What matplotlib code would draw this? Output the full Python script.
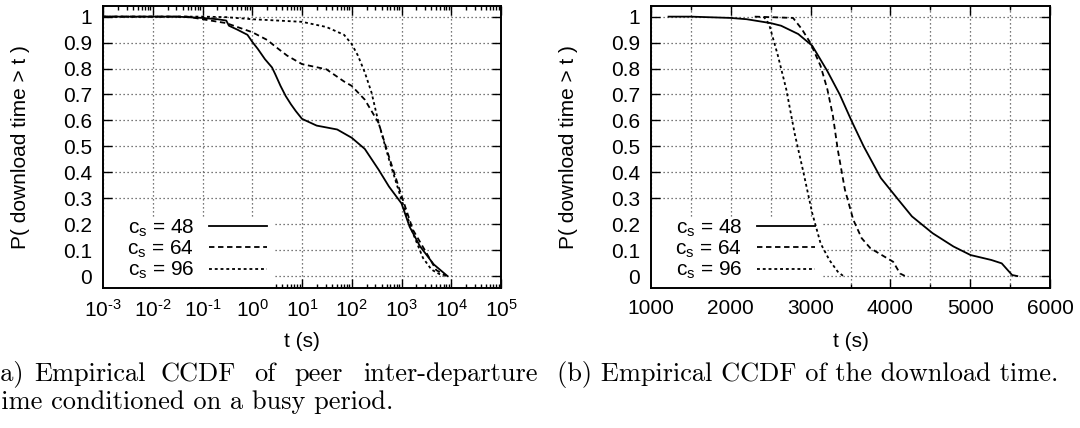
import numpy as np
import matplotlib
matplotlib.use("Agg")
import matplotlib.pyplot as plt
from matplotlib.ticker import (FormatStrFormatter, MultipleLocator, LogLocator,
                               NullFormatter, FuncFormatter)
from matplotlib.patches import Rectangle

plt.rcParams['font.family'] = ['Liberation Sans', 'DejaVu Sans']
plt.rcParams['mathtext.fontset'] = 'custom'
plt.rcParams['mathtext.rm'] = 'Liberation Sans'
plt.rcParams['mathtext.it'] = 'Liberation Sans:italic'
plt.rcParams['mathtext.default'] = 'rm'
plt.rcParams['axes.unicode_minus'] = False

# (a) inter-departure time CCDF, log x axis
a_t48 = [1e-3, 0.03, 0.1, 0.2, 0.3, 0.34, 0.5, 0.8, 1.0, 1.3, 1.8, 2.5, 2.9, 3.7, 4.7,
         6.0, 7.5, 10, 19.7, 51, 100, 183, 347, 560, 1000, 1456, 2350, 4450, 8400]
a_p48 = [1.0, 1.0, 0.995, 0.99, 0.985, 0.965, 0.95, 0.93, 0.903, 0.875, 0.836, 0.804,
         0.778, 0.733, 0.694, 0.662, 0.636, 0.606, 0.58, 0.565, 0.533, 0.49, 0.41, 0.345,
         0.28, 0.19, 0.115, 0.045, 0.0]
a_t64 = [1e-3, 0.05, 0.1, 0.3, 1.0, 2.0, 2.9, 5.0, 10, 31, 70, 100, 183, 347, 560, 1000,
         1700, 3200, 5000, 8000]
a_p64 = [1.0, 1.0, 0.99, 0.975, 0.94, 0.91, 0.885, 0.85, 0.817, 0.797, 0.75, 0.733, 0.68,
         0.59, 0.46, 0.31, 0.178, 0.088, 0.023, 0.0]
a_t96 = [1e-3, 0.1, 0.3, 1.0, 10, 31, 70, 100, 133, 183, 250, 347, 560, 1000, 1700,
         2700, 4000, 5500, 7000]
a_p96 = [1.0, 1.0, 0.998, 0.99, 0.98, 0.96, 0.93, 0.894, 0.85, 0.785, 0.707, 0.59, 0.45,
         0.294, 0.165, 0.07, 0.025, 0.01, 0.0]

# (b) download time CCDF, linear x axis
b_t48 = [1220, 1500, 2000, 2200, 2500, 2630, 2845, 3020, 3210, 3365, 3515, 3665, 3880,
         4100, 4270, 4530, 4790, 5005, 5265, 5395, 5525, 5590]
b_p48 = [1.0, 1.0, 0.995, 0.99, 0.975, 0.965, 0.933, 0.888, 0.79, 0.70, 0.597, 0.50, 0.378,
         0.294, 0.23, 0.165, 0.114, 0.081, 0.062, 0.049, 0.004, 0.0]
b_t64 = [2300, 2780, 2890, 2995, 3125, 3210, 3280, 3340, 3430, 3535, 3640, 3750, 3925,
         4035, 4120, 4185]
b_p64 = [1.0, 0.995, 0.952, 0.90, 0.81, 0.72, 0.617, 0.488, 0.333, 0.217, 0.146, 0.107,
         0.075, 0.055, 0.01, 0.0]
b_t96 = [2410, 2450, 2480, 2590, 2695, 2800, 2910, 3020, 3125, 3235, 3340, 3410]
b_p96 = [1.0, 0.985, 0.97, 0.85, 0.72, 0.55, 0.40, 0.243, 0.126, 0.062, 0.017, 0.0]

labels = ['c$_s$ = 48', 'c$_s$ = 64', 'c$_s$ = 96']
styles = ['-', (0, (3, 2)), (0, (1.6, 1.6))]

FS = 15
W, H = 1080, 428
fig = plt.figure(figsize=(W / 100, H / 100), dpi=100)
ax1 = fig.add_axes([103 / W, 1 - 288 / H, 398 / W, 282 / H])
ax2 = fig.add_axes([651 / W, 1 - 288 / H, 399 / W, 282 / H])

gridkw = dict(color='0.3', linestyle=(0, (1, 2.2)), linewidth=0.9)


def style_axes(ax):
    ax.set_ylim(-0.046, 1.041)
    ax.yaxis.set_major_locator(MultipleLocator(0.1))
    ax.yaxis.set_major_formatter(FormatStrFormatter('%g'))
    ax.tick_params(which='both', direction='in', top=True, right=True,
                   labelsize=FS, width=1)
    ax.tick_params(which='major', length=6.5, pad=8)
    ax.tick_params(which='minor', length=3)
    for s in ax.spines.values():
        s.set_linewidth(1.4)
    ax.set_ylabel('P( download time > t )', fontsize=FS)
    ax.yaxis.set_label_coords(-0.183, 0.5)
    ax.set_xlabel('t (s)', fontsize=FS)
    ax.xaxis.set_label_coords(0.5, -0.155)
    ax.yaxis.grid(True, **gridkw)
    # white box behind the legend hides the grid there
    ax.add_patch(Rectangle((0, 0), 0.432, 0.252, transform=ax.transAxes,
                           facecolor='white', edgecolor='none', zorder=1.8))


def add_legend(ax):
    ax.legend(loc='lower left', bbox_to_anchor=(0.03, -0.02), frameon=False,
              markerfirst=False, fontsize=FS, handlelength=2.8,
              handletextpad=0.7, labelspacing=0.0, borderpad=0.1)


def pow10(v, pos):
    return '10$^{\\text{%d}}$' % int(round(np.log10(v)))


# left panel
for t, p, lab, ls in zip([a_t48, a_t64, a_t96], [a_p48, a_p64, a_p96], labels, styles):
    ax1.plot(t, p, color='black', linestyle=ls, linewidth=1.3, label=lab)
ax1.set_xscale('log')
ax1.set_xlim(1e-3, 1e5)
ax1.xaxis.set_major_locator(LogLocator(base=10, numticks=20))
ax1.xaxis.set_major_formatter(FuncFormatter(pow10))
ax1.xaxis.set_minor_locator(LogLocator(base=10, subs=np.arange(2, 10), numticks=20))
ax1.xaxis.set_minor_formatter(NullFormatter())
style_axes(ax1)
ax1.xaxis.grid(True, which='major', **gridkw)
add_legend(ax1)

# right panel
for t, p, lab, ls in zip([b_t48, b_t64, b_t96], [b_p48, b_p64, b_p96], labels, styles):
    ax2.plot(t, p, color='black', linestyle=ls, linewidth=1.3, label=lab)
ax2.set_xlim(1000, 6000)
ax2.xaxis.set_major_locator(MultipleLocator(1000))
ax2.xaxis.set_minor_locator(MultipleLocator(500))
style_axes(ax2)
ax2.xaxis.grid(True, which='both', **gridkw)
add_legend(ax2)

# captions (LaTeX-like serif, first line justified)
capkw = dict(family='cmr10', fontsize=19, va='baseline', ha='left')
words_a = ['(a)', 'Empirical', 'CCDF', 'of', 'peer', 'inter-departure']
words_x = [-9.5, 34, 160, 254, 294, 363]
for w, x in zip(words_a, words_x):
    fig.text(x / W, 1 - 381 / H, w, **capkw)
fig.text(-9 / W, 1 - 409 / H, 'time conditioned on a busy period.', **capkw)
fig.text(557 / W, 1 - 381 / H, '(b) Empirical CCDF of the download time.', **capkw)

fig.savefig('out.png', dpi=100)
